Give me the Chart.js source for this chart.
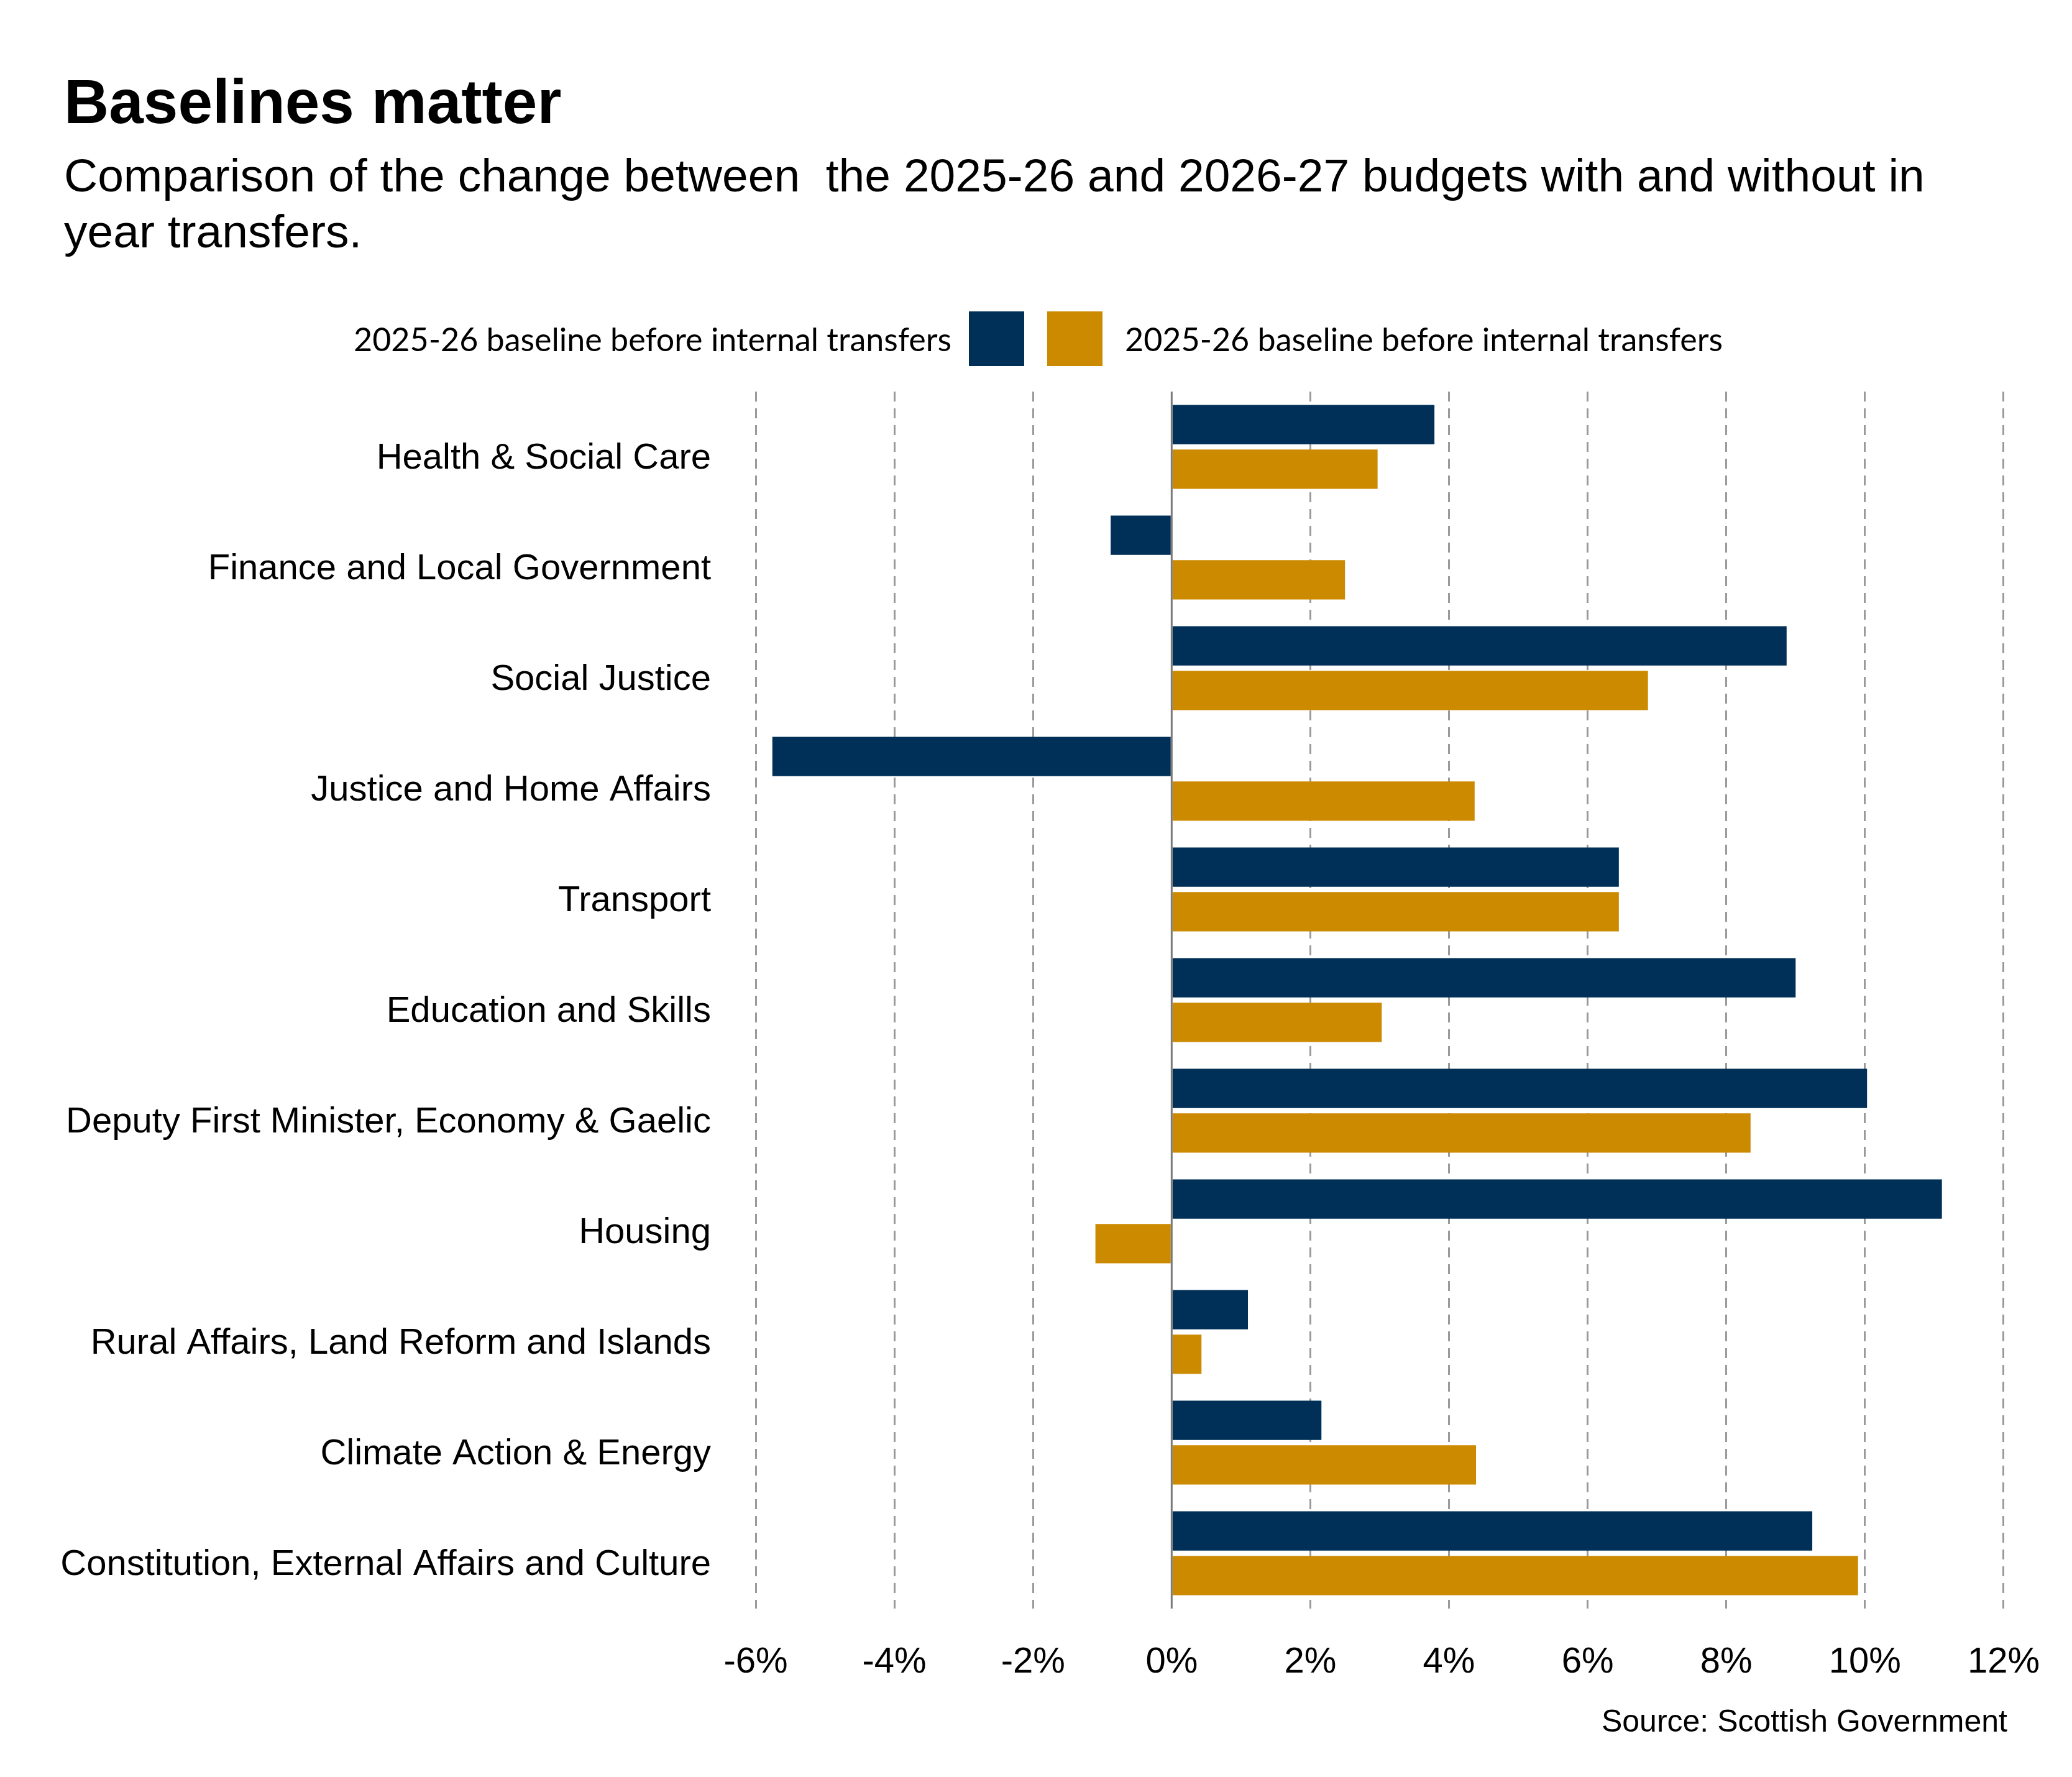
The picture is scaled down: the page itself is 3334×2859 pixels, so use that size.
<!DOCTYPE html>
<html>
<head>
<meta charset="utf-8">
<script src="https://cdn.jsdelivr.net/npm/chart.js@4"></script>
<style>
  html, body { margin: 0; padding: 0; background: #fff; }
  #page { position: relative; width: 3334px; height: 2859px; overflow: hidden; font-family: "Liberation Sans", Arial, sans-serif; color: #000; }
  #wrap { position: absolute; left: 0; top: 0; width: 3334px; height: 2859px; }
  #title { position: absolute; left: 103px; top: 113px; font-size: 100px; line-height: 100px; font-weight: bold; white-space: nowrap; }
  #subtitle { position: absolute; left: 103px; top: 237px; font-size: 75px; line-height: 90px; white-space: pre; }
  #legend { position: absolute; top: 501px; height: 88px; left: 0; width: 3334px; font-family: Lato, sans-serif; font-size: 52px; }
  .lg-text { position: absolute; top: 0; line-height: 88px; white-space: nowrap; }
  .lg-box { position: absolute; top: 0; width: 89px; height: 88px; }
  #source { position: absolute; right: 104px; top: 2744px; font-size: 50px; line-height: 50px; white-space: nowrap; }
</style>
</head>
<body>
<div id="page">
  <div id="wrap"><canvas id="myChart"></canvas></div>
  <div id="title">Baselines matter</div>
  <div id="subtitle">Comparison of the change between  the 2025-26 and 2026-27 budgets with and without in
year transfers.</div>
  <div id="legend"></div>
  <div id="source">Source: Scottish Government</div>
</div>
<script>
var categories = [
  "Health & Social Care",
  "Finance and Local Government",
  "Social Justice",
  "Justice and Home Affairs",
  "Transport",
  "Education and Skills",
  "Deputy First Minister, Economy & Gaelic",
  "Housing",
  "Rural Affairs, Land Reform and Islands",
  "Climate Action & Energy",
  "Constitution, External Affairs and Culture"
];
var seriesNames = [
  "2025-26 baseline before internal transfers",
  "2025-26 baseline before internal transfers"
];
var beforeTransfers = [3.79, -0.88, 8.87, -5.76, 6.45, 9.0, 10.03, 11.11, 1.1, 2.16, 9.24];
var afterTransfers = [2.97, 2.5, 6.87, 4.37, 6.45, 3.03, 8.35, -1.1, 0.43, 4.39, 9.9];
var xTicks = [-6, -4, -2, 0, 2, 4, 6, 8, 10, 12];

var navy = "#003057";
var gold = "#CC8A00";

// legend: first label sits left of its box, second one right of its box
var legend = document.getElementById("legend");
legend.innerHTML =
  '<span class="lg-text" style="right:' + (3334 - 1531) + 'px">' + seriesNames[0] + '</span>' +
  '<span class="lg-box" style="left:1559px;background:' + navy + '"></span>' +
  '<span class="lg-box" style="left:1685px;background:' + gold + '"></span>' +
  '<span class="lg-text" style="left:1810px">' + seriesNames[1] + '</span>';

// solid line at zero, the other grid lines are dashed
var zeroLine = {
  id: "zeroLine",
  afterDatasetsDraw: function (chart) {
    var x = chart.scales.x.getPixelForValue(0);
    var area = chart.chartArea;
    var c = chart.ctx;
    c.save();
    c.strokeStyle = "#7a7a7a";
    c.lineWidth = 3;
    c.beginPath();
    c.moveTo(x, area.top);
    c.lineTo(x, area.bottom);
    c.stroke();
    c.restore();
  }
};

var ctx = document.getElementById("myChart").getContext("2d");
var chart = new Chart(ctx, {
  type: "bar",
  data: {
    labels: categories,
    datasets: [
      {
        label: seriesNames[0],
        data: beforeTransfers,
        backgroundColor: navy,
        borderWidth: 0,
        categoryPercentage: 0.807,
        barPercentage: 0.88
      },
      {
        label: seriesNames[1],
        data: afterTransfers,
        backgroundColor: gold,
        borderWidth: 0,
        categoryPercentage: 0.807,
        barPercentage: 0.88
      }
    ]
  },
  options: {
    indexAxis: "y",
    responsive: true,
    maintainAspectRatio: false,
    animation: false,
    devicePixelRatio: 1,
    layout: { padding: { top: 630, right: 96, bottom: 71, left: 0 } },
    plugins: {
      legend: { display: false },
      tooltip: { enabled: false }
    },
    scales: {
      x: {
        type: "linear",
        position: "bottom",
        min: -6,
        max: 12,
        afterBuildTicks: function (scale) {
          scale.ticks = xTicks.map(function (v) { return { value: v }; });
        },
        afterFit: function (scale) { scale.height = 200; },
        grid: {
          color: function (c) { return c.tick && c.tick.value === 0 ? "rgba(0,0,0,0)" : "#9a9a9a"; },
          lineWidth: 3,
          drawTicks: false
        },
        border: { display: false, dash: [16, 11] },
        ticks: {
          color: "#000",
          padding: 52,
          font: { family: "Liberation Sans", size: 58 },
          callback: function (v) { return v + "%"; }
        }
      },
      y: {
        afterFit: function (scale) { scale.width = 1216; },
        grid: { display: false, drawTicks: false },
        border: { display: false },
        ticks: {
          color: "#000",
          padding: 72,
          labelOffset: 19,
          autoSkip: false,
          font: { family: "Liberation Sans", size: 58 }
        }
      }
    }
  },
  plugins: [zeroLine]
});
</script>
</body>
</html>
